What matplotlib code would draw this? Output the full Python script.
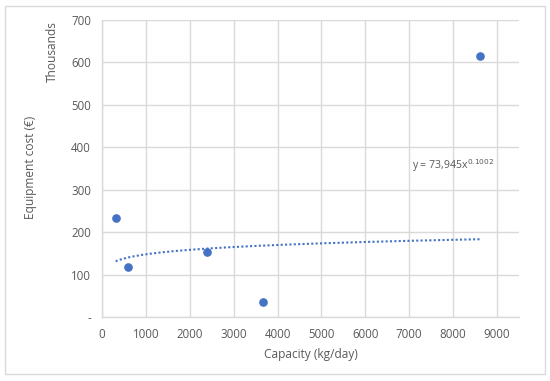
import matplotlib

matplotlib.use("Agg")
import matplotlib.pyplot as plt
import numpy as np
from matplotlib.patches import Rectangle

# data (capacity in kg/day, cost in thousands of euro)
capacity = [310, 600, 2400, 3670, 8620]
cost = [233, 117, 154, 35, 616]

# power trend reported on the chart
trend_a = 73.945
trend_b = 0.1002

x_ticks = [0, 1000, 2000, 3000, 4000, 5000, 6000, 7000, 8000, 9000]
y_ticks = [0, 100, 200, 300, 400, 500, 600, 700]
y_tick_labels = ["-", "100", "200", "300", "400", "500", "600", "700"]

blue = "#4472C4"
grid = "#D9D9D9"
text = "#595959"

plt.rcParams["font.family"] = ["Open Sans", "DejaVu Sans"]

fig = plt.figure(figsize=(5.5, 3.81), dpi=100)
ax = fig.add_axes([0.1855, 0.168, 0.758, 0.7795])

fx = np.linspace(min(capacity), max(capacity), 200)
ax.plot(fx, trend_a * fx ** trend_b, color=blue, lw=1.5, ls=(0, (1, 1.1)), zorder=2)
ax.plot(capacity, cost, "o", color=blue, ms=5.2, zorder=3)

ax.set_xlim(0, 9500)
ax.set_ylim(0, 700)
ax.set_xticks(x_ticks)
ax.set_yticks(y_ticks)
ax.set_yticklabels(y_tick_labels)
ax.tick_params(length=0, labelsize=8.3, colors=text, pad=8)
ax.grid(color=grid, lw=1)
ax.set_axisbelow(True)
for side in ["top", "right"]:
    ax.spines[side].set_visible(False)
for side in ["left", "bottom"]:
    ax.spines[side].set_color(grid)
    ax.spines[side].set_linewidth(1)

ax.set_xlabel("Capacity (kg/day)", fontsize=8.6, color=text, labelpad=5)
fig.text(0.055, 0.56, "Equipment cost (€)", rotation=90, fontsize=8.6,
         color=text, ha="center", va="center")
fig.text(0.095, 0.865, "Thousands", rotation=90, fontsize=8.6,
         color=text, ha="center", va="center")

ax.text(7060, 358, "y = 73,945x$^{0.1002}$", fontsize=7.6, color=text,
        ha="left", va="center")

fig.patches.append(Rectangle((0.009, 0.018), 0.982, 0.967, transform=fig.transFigure,
                             fill=False, edgecolor="#D9D9D9", lw=1))

fig.savefig("out.png", dpi=100)
